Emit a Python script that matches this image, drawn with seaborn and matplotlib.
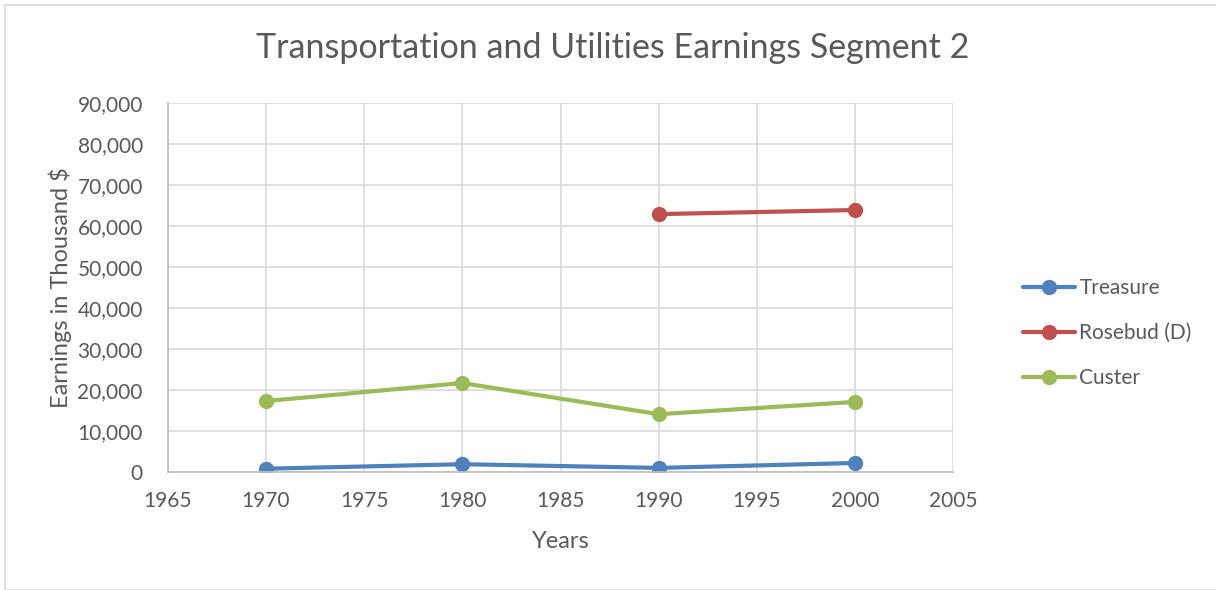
import pandas as pd
import numpy as np
import seaborn as sns
import matplotlib.pyplot as plt
import matplotlib.ticker as mticker
from matplotlib.patches import Rectangle

# data
years = [1970, 1980, 1990, 2000]
treasure = [800, 1900, 1000, 2200]
rosebud = [np.nan, np.nan, 62900, 63900]
custer = [17300, 21700, 14100, 17100]
series_names = ['Treasure', 'Rosebud (D)', 'Custer']
colors = ['#4F81BD', '#C0504D', '#9BBB59']

df = pd.DataFrame({'Year': years, 'Treasure': treasure,
                   'Rosebud (D)': rosebud, 'Custer': custer})
long_df = df.melt(id_vars='Year', var_name='County', value_name='Earnings').dropna()

sns.set_theme(style='white')
plt.rcParams['font.family'] = ['Lato', 'DejaVu Sans']
text_color = '#595959'

fig = plt.figure(figsize=(12.16, 5.9), dpi=100)
ax = fig.add_axes([0.138, 0.2, 0.646, 0.6254])

sns.lineplot(data=long_df, x='Year', y='Earnings', hue='County',
             hue_order=series_names, palette=colors, marker='o',
             markersize=11, markeredgewidth=0, linewidth=3, ax=ax)

ax.set_xlim(1965, 2005)
ax.set_ylim(0, 90000)
ax.xaxis.set_major_locator(mticker.MultipleLocator(5))
ax.yaxis.set_major_locator(mticker.MultipleLocator(10000))
ax.yaxis.set_major_formatter(mticker.FuncFormatter(lambda v, p: f'{int(v):,}'))
ax.grid(True, color='#D9D9D9', linewidth=1.2)
ax.set_axisbelow(True)
for side in ['top', 'right']:
    ax.spines[side].set_visible(False)
for side in ['left', 'bottom']:
    ax.spines[side].set_color('#BFBFBF')
ax.tick_params(axis='both', labelsize=15, colors=text_color, length=0)
ax.tick_params(axis='x', pad=14)
ax.tick_params(axis='y', pad=18)

ax.set_xlabel('Years', fontsize=17, color=text_color, labelpad=14)
ax.set_ylabel('Earnings in Thousand $', fontsize=17, color=text_color, labelpad=4)
fig.text(0.504, 0.918, 'Transportation and Utilities Earnings Segment 2',
         ha='center', va='center', fontsize=24.5, color=text_color)

ax.get_legend().remove()
handles, labels = ax.get_legend_handles_labels()
fig.legend(handles, labels, loc='center left', bbox_to_anchor=(0.826, 0.435),
           frameon=False, fontsize=15, labelcolor=text_color,
           handlelength=2.5, handletextpad=0.2, labelspacing=1.2)

# chart border
fig.patches.append(Rectangle((0.004, 0.0), 1.0, 0.992, transform=fig.transFigure,
                             fill=False, edgecolor='#D9D9D9', linewidth=1.2))

fig.savefig('out.png', dpi=100)
